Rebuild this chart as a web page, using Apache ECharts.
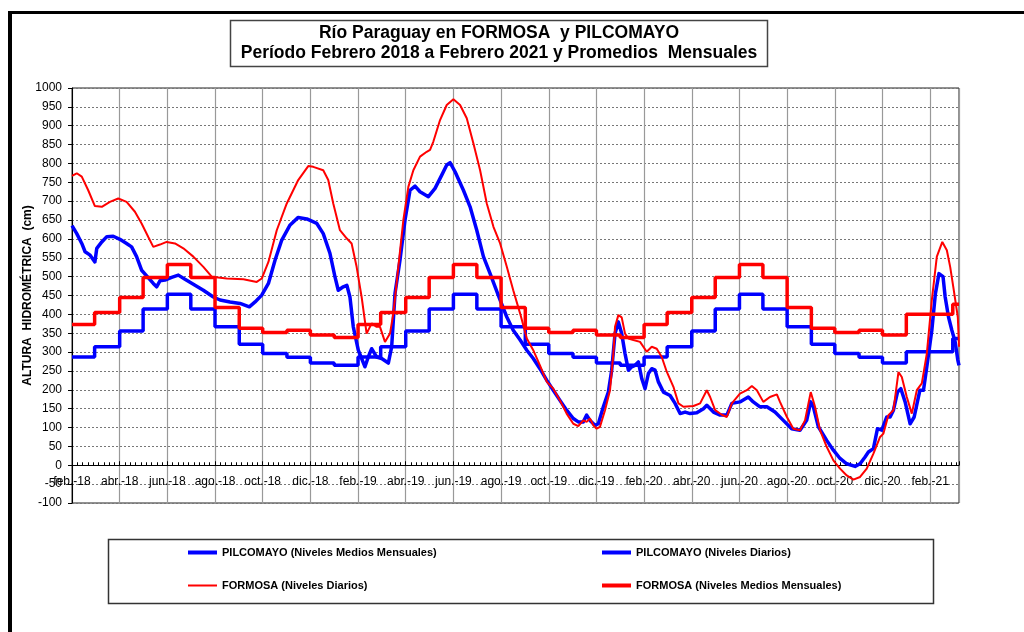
<!DOCTYPE html>
<html><head><meta charset="utf-8">
<script src="https://cdn.jsdelivr.net/npm/echarts@6/dist/echarts.min.js"></script>
<style>html,body{margin:0;padding:0;background:#fff}#c{width:1024px;height:632px}</style>
</head><body><div id="c"></div>
<script>
// ---- DATA ----
const titleLines = ['Río Paraguay en FORMOSA  y PILCOMAYO', 'Período Febrero 2018 a Febrero 2021 y Promedios  Mensuales'];
const yAxisName = 'ALTURA  HIDROMÉTRICA  (cm)';
const tickLabels = ['feb.-18','abr.-18','jun.-18','ago.-18','oct.-18','dic.-18','feb.-19','abr.-19','jun.-19','ago.-19','oct.-19','dic.-19','feb.-20','abr.-20','jun.-20','ago.-20','oct.-20','dic.-20','feb.-21'];
const seriesNames = ['PILCOMAYO (Niveles Medios Mensuales)','PILCOMAYO (Niveles Diarios)','FORMOSA (Niveles Diarios)','FORMOSA (Niveles Medios Mensuales)'];
// x unit: months since 1 Feb 2018; monthly values from Feb-18 to Mar-21
const xEnd = 37.21;
const yMin = -100, yMax = 1000, yStep = 50;
const pilcoMonthly = [287,314,356,414,453,414,367,321,296,286,271,265,
                      287,314,356,414,453,414,367,321,296,286,271,265,
                      287,314,356,414,453,414,367,321,296,286,271,301,301,336];
const formosaMonthly = [373,405,445,498,532,498,418,363,352,358,345,339,
                        373,405,445,498,532,498,418,363,352,358,345,339,
                        373,405,445,498,532,498,418,363,352,358,345,400,400,427];
const pilcoDailyX = [0,0.2,0.41,0.55,0.76,0.96,1.04,1.25,1.46,1.73,2.01,2.29,2.5,2.71,2.92,3.16,3.41,3.55,3.69,3.9,4.18,4.46,4.74,5.09,5.51,5.93,6.21,6.63,7.05,7.44,7.68,7.96,8.24,8.52,8.8,9.15,9.49,9.85,10.27,10.54,10.82,11.03,11.17,11.38,11.53,11.66,11.8,12.01,12.15,12.29,12.43,12.57,12.78,12.99,13.27,13.41,13.55,13.76,13.97,14.18,14.39,14.6,14.95,15.23,15.51,15.72,15.86,16.07,16.42,16.7,16.98,17.26,17.54,17.75,17.96,18.24,18.51,18.8,19.08,19.35,19.63,19.92,20.19,20.47,20.75,21.03,21.24,21.45,21.59,21.73,21.94,22.08,22.29,22.5,22.64,22.78,22.92,23.06,23.2,23.34,23.48,23.62,23.76,23.9,24.04,24.18,24.32,24.46,24.6,24.81,25.09,25.3,25.51,25.72,25.93,26.21,26.49,26.63,26.91,27.19,27.47,27.68,28.02,28.37,28.58,28.86,29.15,29.49,29.84,30.19,30.54,30.82,30.99,31.1,31.31,31.66,31.94,32.22,32.5,32.85,33.06,33.27,33.41,33.62,33.79,33.97,34.18,34.32,34.46,34.63,34.77,34.95,35.16,35.33,35.57,35.72,35.86,36.07,36.22,36.37,36.54,36.63,36.77,36.91,37.05,37.16,37.21];
const pilcoDailyY = [635,614,588,566,557,539,575,592,606,607,599,588,579,553,517,500,482,473,489,491,498,504,493,480,464,446,438,433,429,420,433,451,482,544,597,637,657,653,641,614,562,500,464,473,477,446,367,305,283,261,287,309,287,283,271,314,455,544,650,729,740,725,712,734,769,796,802,778,729,685,623,553,508,473,438,393,358,332,305,283,256,225,199,172,146,124,115,115,133,119,106,110,155,194,252,349,380,349,296,252,261,265,274,230,203,243,256,252,221,194,185,164,137,141,137,139,150,159,141,133,133,164,168,181,168,155,155,141,119,97,93,119,168,155,102,66,40,18,4,-3,4,22,35,44,97,93,128,128,146,194,203,168,110,128,199,199,261,358,455,508,500,446,393,358,327,279,265];
const formosaDailyX = [0,0.2,0.41,0.68,0.96,1.25,1.59,1.94,2.29,2.64,2.92,3.2,3.41,3.69,3.97,4.32,4.67,5.09,5.51,5.86,6.49,7.19,7.75,7.96,8.24,8.59,9.01,9.49,9.91,10.12,10.54,10.75,10.96,11.24,11.53,11.73,11.94,12.15,12.36,12.57,12.78,12.92,13.13,13.34,13.48,13.69,13.9,14.11,14.32,14.6,14.88,15.02,15.16,15.44,15.72,16.0,16.28,16.56,16.84,17.12,17.4,17.68,17.96,18.24,18.51,18.8,19.08,19.35,19.63,19.92,20.19,20.47,20.75,21.03,21.24,21.45,21.59,21.73,21.87,22.01,22.15,22.36,22.57,22.71,22.78,22.92,23.06,23.2,23.34,23.55,23.83,24.11,24.32,24.53,24.74,24.95,25.23,25.44,25.65,26.07,26.35,26.63,26.77,26.98,27.26,27.47,27.68,28.02,28.31,28.52,28.73,29.0,29.28,29.57,29.7,29.99,30.26,30.54,30.75,30.99,31.17,31.38,31.66,31.94,32.22,32.5,32.78,33.06,33.34,33.62,33.9,34.04,34.25,34.46,34.67,34.81,35.02,35.23,35.44,35.65,35.86,36.07,36.28,36.51,36.7,36.84,36.97,37.16,37.21];
const formosaDailyY = [767,774,765,729,687,685,698,707,698,672,641,605,579,585,592,588,575,553,526,500,495,493,486,495,539,623,694,756,793,791,782,756,694,623,601,588,526,446,349,376,367,367,327,349,402,526,650,738,782,818,831,836,858,915,955,970,955,920,853,782,694,632,588,526,464,402,336,305,265,221,203,172,137,110,104,119,115,124,106,97,102,146,199,296,367,398,392,349,336,332,327,301,314,309,287,248,208,164,155,157,164,199,181,146,134,128,164,190,199,210,199,168,181,188,168,128,97,93,119,194,155,93,49,13,-9,-27,-38,-31,-9,31,75,84,133,146,247,234,181,137,199,217,296,438,553,592,570,526,473,393,314];

// ---- helpers ----
function monthPos(i) {
  if (i % 2 === 0) return i;
  const base = i - 1;
  const m0 = 1 + base;
  const d1 = new Date(2018, m0 + 1, 0).getDate();
  const d2 = new Date(2018, m0 + 2, 0).getDate();
  return base + 2 * d1 / (d1 + d2);
}
function stepData(vals) {
  const d = vals.map((v, i) => [monthPos(i), v]);
  d.push([xEnd, vals[vals.length - 1]]);
  return d;
}
const zip = (xs, ys) => xs.map((x, i) => [x, ys[i]]);

const FONT = '"Liberation Sans", Arial, sans-serif';
const BLUE = '#0000ff', RED = '#ff0000';
const GRID = {left: 72, right: 65, top: 88, bottom: 129};
const plotH = 632 - GRID.top - GRID.bottom;
// move the x axis (line, ticks, labels) up to the zero level
const zeroOffset = -plotH * (0 - yMin) / (yMax - yMin);

const chart = echarts.init(document.getElementById('c'), null, {renderer: 'canvas'});

function legendAt(name, left, top, h) {
  return {
    data: [name], left: left, top: top, padding: 0, orient: 'horizontal',
    icon: 'rect', itemWidth: 29, itemHeight: h, selectedMode: false,
    textStyle: {fontFamily: FONT, fontSize: 11, fontWeight: 'bold', color: '#000'}
  };
}

chart.setOption({
  animation: false,
  backgroundColor: '#fff',
  grid: Object.assign({show: true, borderColor: '#222', borderWidth: 1, containLabel: false}, GRID),
  legend: [
    legendAt(seriesNames[0], 188, 547, 4),
    legendAt(seriesNames[1], 602, 547, 4),
    legendAt(seriesNames[2], 188, 580, 2),
    legendAt(seriesNames[3], 602, 580, 4)
  ],
  graphic: [
    {type: 'rect', shape: {x: 8, y: 11, width: 1020, height: 3}, style: {fill: '#000'}, silent: true},
    {type: 'rect', shape: {x: 8, y: 11, width: 4, height: 625}, style: {fill: '#000'}, silent: true},
    {type: 'rect', shape: {x: 230.5, y: 20.5, width: 537, height: 46}, style: {fill: '#fff', stroke: '#444', lineWidth: 1.5}, silent: true},
    {type: 'text', x: 499, y: 33, style: {text: titleLines[0], font: 'bold 17.5px ' + FONT, fill: '#000', textAlign: 'center', textVerticalAlign: 'middle'}, silent: true},
    {type: 'text', x: 499, y: 53, style: {text: titleLines[1], font: 'bold 17.5px ' + FONT, fill: '#000', textAlign: 'center', textVerticalAlign: 'middle'}, silent: true},
    {type: 'rect', shape: {x: 108.5, y: 539.5, width: 825, height: 64}, style: {fill: 'none', stroke: '#333', lineWidth: 1.5}, silent: true, z: -1}
  ],
  xAxis: {
    type: 'value', min: 0, max: xEnd, interval: 2, offset: zeroOffset,
    axisLine: {show: true, onZero: false, lineStyle: {color: '#000', width: 1}},
    axisTick: {show: true, inside: true, length: 4, lineStyle: {color: '#000'}},
    minorTick: {show: true, splitNumber: 9, length: 3, lineStyle: {color: '#000'}},
    splitLine: {show: true, lineStyle: {color: '#999', width: 1.2, type: 'solid'}},
    axisLabel: {
      margin: 10, fontFamily: FONT, fontSize: 12, color: '#000',
      formatter: function (v) {
        const k = v / 2;
        if (Math.abs(k - Math.round(k)) > 1e-6) return '';
        return tickLabels[Math.round(k)] || '';
      }
    }
  },
  yAxis: {
    type: 'value', min: yMin, max: yMax, interval: yStep,
    name: yAxisName, nameLocation: 'middle', nameGap: 38, nameRotate: 90, nameMoveOverlap: false,
    nameTextStyle: {fontFamily: FONT, fontSize: 12, fontWeight: 'bold', color: '#000'},
    axisLine: {show: true, lineStyle: {color: '#000', width: 1}},
    axisTick: {show: true, inside: false, length: 4, lineStyle: {color: '#000'}},
    splitLine: {show: true, lineStyle: {color: '#777', width: 1, type: [2, 2]}},
    axisLabel: {margin: 10, fontFamily: FONT, fontSize: 12, color: '#000', formatter: v => String(v)}
  },
  series: [
    {name: seriesNames[0], type: 'line', step: 'end', data: stepData(pilcoMonthly), showSymbol: false, color: BLUE, lineStyle: {color: BLUE, width: 3.5}, z: 2},
    {name: seriesNames[1], type: 'line', data: zip(pilcoDailyX, pilcoDailyY), showSymbol: false, color: BLUE, lineStyle: {color: BLUE, width: 3.5, join: 'round'}, z: 3},
    {name: seriesNames[2], type: 'line', data: zip(formosaDailyX, formosaDailyY), showSymbol: false, color: RED, lineStyle: {color: RED, width: 2}, z: 4},
    {name: seriesNames[3], type: 'line', step: 'end', data: stepData(formosaMonthly), showSymbol: false, color: RED, lineStyle: {color: RED, width: 3.5}, z: 5}
  ]
});
</script>
</body></html>
